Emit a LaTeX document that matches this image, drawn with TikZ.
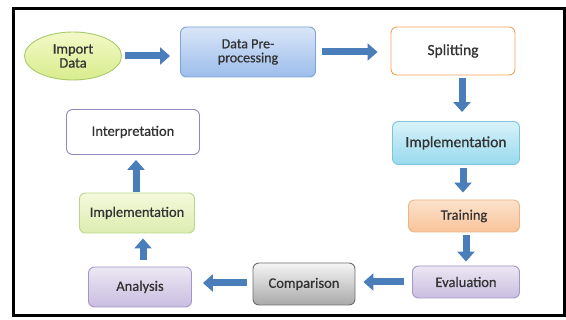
\documentclass[tikz,border=0pt]{standalone}
\usepackage{fontspec}
\setmainfont{Carlito}
\newfontfamily\labelfont[FakeBold=0.7]{Carlito}
\usetikzlibrary{arrows.meta,shapes.geometric}

\definecolor{flowblue}{HTML}{4A7EBB}
\definecolor{txtgray}{HTML}{333333}
\definecolor{lavtop}{HTML}{ECE7F3}
\definecolor{lavbot}{HTML}{C9BDE0}
\definecolor{lavline}{HTML}{A497C4}

\begin{document}
\begin{tikzpicture}[x=1pt, y=-1pt,
  box/.style={draw, rounded corners=6pt, line width=0.9pt, align=center, text=txtgray,
    font=\labelfont\fontsize{14.5}{15}\selectfont, inner sep=2pt},
  lavender/.style={draw=lavline, top color=lavtop, bottom color=lavbot},
  flow/.style={draw=flowblue, line width=7pt, -{Triangle[width=17pt,length=10pt]}}]
\useasboundingbox (0,0) rectangle (566,320);
\draw[line width=3pt] (13,9) rectangle (564,316);

\node[box, ellipse, draw={rgb,255:red,169;green,201;blue,106}, top color={rgb,255:red,243;green,249;blue,200},
  bottom color={rgb,255:red,216;green,236;blue,140},
  minimum width=97pt, minimum height=48pt, font=\labelfont\fontsize{14.5}{14}\selectfont] (imp) at (73,56) {Import\\Data};
\node[box, draw={rgb,255:red,126;green,163;blue,213}, top color={rgb,255:red,217;green,230;blue,248},
  bottom color={rgb,255:red,156;green,189;blue,235},
  minimum width=135pt, minimum height=50pt, font=\labelfont\fontsize{14}{14}\selectfont] (pre) at (248,52) {Data Pre-\\processing};
\node[box, draw={rgb,255:red,245;green,162;blue,90}, fill=white, minimum width=124pt, minimum height=48pt,
  font=\labelfont\fontsize{15.5}{17}\selectfont] (split) at (453,51) {Splitting};
\node[box, draw={rgb,255:red,127;green,196;blue,220}, top color={rgb,255:red,216;green,242;blue,250},
  bottom color={rgb,255:red,152;green,217;blue,238},
  minimum width=127pt, minimum height=43pt, font=\labelfont\fontsize{15.5}{17}\selectfont] (impl) at (456,143) {Implementation};
\node[box, draw={rgb,255:red,240;green,181;blue,132}, top color={rgb,255:red,252;green,226;blue,204},
  bottom color={rgb,255:red,249;green,196;blue,154},
  minimum width=111pt, minimum height=32pt] (train) at (464,216) {Training};
\node[box, lavender, minimum width=107pt, minimum height=32pt] (eval) at (466,282) {Evaluation};
\node[box, draw={rgb,255:red,110;green,110;blue,110}, top color={rgb,255:red,245;green,245;blue,245},
  bottom color={rgb,255:red,169;green,169;blue,169},
  minimum width=102pt, minimum height=42pt] (comp) at (304,284) {Comparison};
\node[box, lavender, minimum width=103pt, minimum height=40pt] (ana) at (140,287) {Analysis};
\node[box, draw={rgb,255:red,185;green,214;blue,140}, top color={rgb,255:red,244;green,249;blue,220},
  bottom color={rgb,255:red,221;green,237;blue,176},
  minimum width=115pt, minimum height=40pt] (impl2) at (137,213) {Implementation};
\node[box, draw={rgb,255:red,140;green,138;blue,184}, fill=white,
  minimum width=133pt, minimum height=45pt] (interp) at (133,132) {Interpretation};

\draw[flow, shorten <=3pt, shorten >=10pt] (imp.east) -- (imp.east -| pre.west);
\draw[flow, shorten <=6pt, shorten >=13pt] (pre.east) -- (pre.east -| split.west);
\draw[flow, shorten <=3pt, shorten >=9pt] ([xshift=9pt]split.south) -- ([xshift=9pt]split.south |- impl.north);
\draw[flow, shorten <=3pt, shorten >=7pt] ([xshift=7pt]impl.south) -- ([xshift=7pt]impl.south |- train.north);
\draw[flow, shorten <=3pt, shorten >=4pt] ([xshift=2pt]train.south) -- ([xshift=2pt]train.south |- eval.north);
\draw[flow, shorten <=8pt, shorten >=8pt] (eval.west) -- (eval.west -| comp.east);
\draw[flow, shorten <=6pt, shorten >=11pt] ([yshift=1pt]comp.west) -- ([yshift=1pt]comp.west -| ana.east);
\draw[flow, shorten <=7pt, shorten >=5pt] ([xshift=3pt]ana.north) -- ([xshift=3pt]ana.north |- impl2.south);
\draw[flow, shorten <=1pt, shorten >=5pt] ([xshift=-1pt]impl2.north) -- ([xshift=-1pt]impl2.north |- interp.south);
\end{tikzpicture}
\end{document}
